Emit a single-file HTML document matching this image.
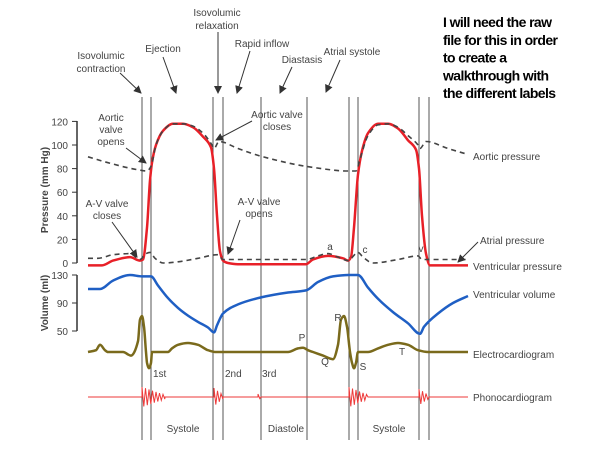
<!DOCTYPE html>
<html><head><meta charset="utf-8"><style>
html,body{margin:0;padding:0;background:#fff;}
svg{display:block;font-family:"Liberation Sans",Arial,sans-serif;}
.lbl{font-size:10px;fill:#444;}
.note{font-family:"Liberation Sans",sans-serif;font-weight:bold;font-size:14px;fill:#000;letter-spacing:-0.6px;}
</style></head><body>
<svg id="chart" width="600" height="451" viewBox="0 0 600 451">
<defs><marker id="ah" markerWidth="8" markerHeight="8" refX="7" refY="4" orient="auto" markerUnits="userSpaceOnUse"><path d="M0,0 L8,4 L0,8 z" fill="#333"/></marker></defs>
<g id="grid"></g>
<g id="axes"></g>
<g id="series"></g>
<g id="labels"></g>
</svg>
<script>
const phaseTimes=[108,126,250,270,346,438,522,540,662,682];
const ventP_t=[0,28,50,84,104,110,118,124,128,136,150,170,190,210,230,246,252,258,264,270,280,300,436,450,480,510,520,526,532,540,548,560,580,600,620,640,656,662,668,676,684,760];
const ventP_v=[-2,-2,2,5,2,3,30,70,85,100,112,118,118,115,107,98,80,40,10,2,0,-1,-1,3,6,4,2,5,30,75,95,110,118,118,114,104,96,80,40,8,-2,-2];
const aortP_t=[0,40,100,118,126,136,150,170,190,210,230,248,252,262,300,350,450,520,536,544,560,580,600,620,640,660,664,676,720,760];
const aortP_v=[90,85,79,78,82,100,112,118,118,116,110,100,97,103,97,90,81,78,78,88,108,117,118,115,108,100,97,103,97,92];
const atrP_t=[0,20,50,84,104,116,124,134,150,180,220,260,270,300,436,460,480,500,520,540,550,570,620,660,668,680,760];
const atrP_v=[4,4,7,8,3,8,9,4,0,1,4,7,3,3,3,6,8,5,2,9,5,0,3,6,3,3,3];
const vol_t=[0,24,50,84,108,126,140,160,180,200,220,240,252,258,270,300,346,400,436,460,490,520,540,560,580,610,640,664,672,700,730,760];
const vol_v=[110,110,122,130,128,128,115,97,83,72,63,55,48,58,75,88,98,105,108,120,128,130,130,112,96,77,61,46,56,75,90,100];
const ecg_t=[0,16,24,34,40,70,86,100,104,108,112,116,118,122,126,128,140,160,168,180,200,220,240,256,400,420,430,440,450,470,490,500,506,512,518,524,528,532,536,540,560,580,600,620,640,660,680,760];
const ecg_v=[0,0.05,0.2,0.05,0,0,-0.1,0.3,0.9,1.0,0.7,0,-0.3,-0.45,-0.3,0,0,0,0.1,0.2,0.25,0.2,0.05,0,0,0.1,0.12,0.05,0,-0.1,-0.2,0.2,0.9,1.0,0.7,0,-0.3,-0.45,-0.3,0,0,0.1,0.2,0.25,0.2,0.05,0,0];
const phonoStart=[108,252,340,522,662];
const phonoEnd=[154,270,346,560,682];
const phonoAmp=[1,0.9,0.3,1,0.8];
const pTicks=[0,20,40,60,80,100,120];
const vTicks=[50,90,130];

const X=t=>88+t*0.5;
const YP=p=>263-p*1.18;
const YV=v=>331-(v-50)*0.7;
const YE=e=>352-e*36;
const YPh=a=>397-a*10;
const NS='http://www.w3.org/2000/svg';
function mk(tag,attrs,parent){const e=document.createElementNS(NS,tag);for(const k in attrs)e.setAttribute(k,attrs[k]);document.getElementById(parent).appendChild(e);return e;}
// monotone cubic (no overshoot)
function smooth(pts){const n=pts.length;const dx=[],m=[],s=[];
 for(let i=0;i<n-1;i++){dx[i]=pts[i+1][0]-pts[i][0];s[i]=(pts[i+1][1]-pts[i][1])/dx[i];}
 m[0]=s[0];m[n-1]=s[n-2];
 for(let i=1;i<n-1;i++){m[i]=(s[i-1]*s[i]<=0)?0:3*(dx[i-1]+dx[i])/((2*dx[i]+dx[i-1])/s[i-1]+(dx[i]+2*dx[i-1])/s[i]);}
 let d='M'+pts[0][0].toFixed(1)+','+pts[0][1].toFixed(1);
 for(let i=0;i<n-1;i++){const h=dx[i]/3;
  d+=' C'+(pts[i][0]+h).toFixed(1)+','+(pts[i][1]+m[i]*h).toFixed(1)+' '+(pts[i+1][0]-h).toFixed(1)+','+(pts[i+1][1]-m[i+1]*h).toFixed(1)+' '+pts[i+1][0].toFixed(1)+','+pts[i+1][1].toFixed(1);}
 return d;}

phaseTimes.forEach(t=>{const l=mk('line',{x1:X(t),x2:X(t),y1:97,y2:440,stroke:'#555','stroke-width':1},'grid');

});

let a=mk('line',{x1:77,x2:77,y1:121,y2:263,stroke:'#333','stroke-width':1.5},'axes');


pTicks.forEach(p=>{mk('line',{x1:72,x2:77,y1:YP(p),y2:YP(p),stroke:'#333'},'axes');
 const t=mk('text',{x:68,y:YP(p)+4,'text-anchor':'end',class:'lbl'},'axes');t.textContent=p;
 
 });
a=mk('line',{x1:77,x2:77,y1:YV(130),y2:YV(50),stroke:'#333','stroke-width':1.5},'axes');


vTicks.forEach(v=>{mk('line',{x1:72,x2:77,y1:YV(v),y2:YV(v),stroke:'#333'},'axes');
 const t=mk('text',{x:68,y:YV(v)+4,'text-anchor':'end',class:'lbl'},'axes');t.textContent=v;
 
 });

function series(ts,vs,f,attrs,name){const pts=ts.map((t,i)=>[X(t),f(vs[i])]);const p=mk('path',Object.assign({d:smooth(pts),fill:'none'},attrs),'series');
 
 }
series(ecg_t,ecg_v,YE,{stroke:'#7a6a1c','stroke-width':2.5},'electrocardiogram-line');
series(vol_t,vol_v,YV,{stroke:'#1f5fc4','stroke-width':2.5},'ventricular-volume-line');
series(ventP_t,ventP_v,YP,{stroke:'#e82028','stroke-width':2.5},'ventricular-pressure-line');
series(aortP_t,aortP_v,YP,{stroke:'#444','stroke-width':1.6,'stroke-dasharray':'5,4'},'aortic-pressure-line');
series(atrP_t,atrP_v,YP,{stroke:'#444','stroke-width':1.6,'stroke-dasharray':'5,4'},'atrial-pressure-line');

let d='M'+X(0)+','+YPh(0);
phonoStart.forEach((s,i)=>{d+=' L'+X(s)+','+YPh(0);let k=0;for(let t=s;t<phonoEnd[i];t+=3.5){const decay=1-(t-s)/(phonoEnd[i]-s)*0.8;d+=' L'+X(t).toFixed(1)+','+YPh((k%2?-1:1)*phonoAmp[i]*decay).toFixed(1);k++;}d+=' L'+X(phonoEnd[i])+','+YPh(0);});
d+=' L'+X(760)+','+YPh(0);
const ph=mk('path',{d:d,fill:'none',stroke:'#ee3a3a','stroke-width':1},'series');



const L=[['Isovolumic',217,16,'middle'],['relaxation',217,29,'middle'],['Ejection',163,52,'middle'],['Isovolumic',101,59,'middle'],['contraction',101,72,'middle'],['Rapid inflow',262,47,'middle'],['Diastasis',302,63,'middle'],['Atrial systole',352,55,'middle'],
['Aortic',111,121,'middle'],['valve',111,133,'middle'],['opens',111,145,'middle'],['A-V valve',107,207,'middle'],['closes',107,219,'middle'],['Aortic valve',277,118,'middle'],['closes',277,130,'middle'],['A-V valve',259,205,'middle'],['opens',259,217,'middle'],
['Aortic pressure',473,160,'start'],['Atrial pressure',480,244,'start'],['Ventricular pressure',473,270,'start'],['Ventricular volume',473,298,'start'],['Electrocardiogram',473,358,'start'],['Phonocardiogram',473,401,'start'],
['1st',153,377,'start'],['2nd',225,377,'start'],['3rd',262,377,'start'],['P',302,341,'middle'],['Q',325,365,'middle'],['R',338,321,'middle'],['S',363,370,'middle'],['T',402,355,'middle'],['a',330,250,'middle'],['c',365,253,'middle'],['v',421,252,'middle'],
['Systole',183,432,'middle'],['Diastole',286,432,'middle'],['Systole',389,432,'middle']];
L.forEach(l=>{const t=mk('text',{x:l[1],y:l[2],'text-anchor':l[3],class:'lbl'},'labels');t.textContent=l[0];
 
 });
const AR=[[120,73,141,93],[163,57,176,93],[218,32,218,93],[250,51,237,93],[292,67,280,93],[340,60,326,92],[126,148,146,163],[112,222,137,257],[252,121,216,140],[240,220,228,254],[478,242,458,262]];
AR.forEach(r=>{const l=mk('line',{x1:r[0],y1:r[1],x2:r[2],y2:r[3],stroke:'#333','stroke-width':1,'marker-end':'url(#ah)'},'labels');
 
 });
[['Pressure (mm Hg)',190],['Volume (ml)',303]].forEach(v=>{const t=mk('text',{x:0,y:0,transform:'translate(48,'+v[1]+') rotate(-90)','text-anchor':'middle',class:'lbl','font-weight':'bold'},'labels');t.textContent=v[0];
 
 });
['I will need the raw','file for this in order','to create a','walkthrough with','the different labels'].forEach((s,i)=>{const t=mk('text',{x:443,y:27+i*17.8,class:'note'},'labels');t.textContent=s;
 
 });
</script>
</body></html>
